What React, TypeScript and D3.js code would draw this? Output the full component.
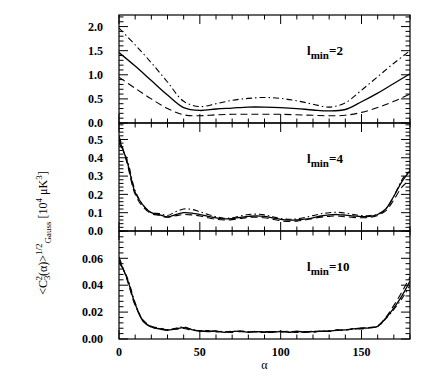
import React from "react";
import * as d3 from "d3";

// alpha grid (degrees)
const alphaCoarse = [0, 10, 20, 30, 40, 50, 60, 70, 80, 90, 100, 110, 120, 130, 140, 150, 160, 170, 180];
const alphaFine = [
  0, 5, 10, 15, 20, 25, 30, 35, 40, 45, 50, 55, 60, 65, 70, 75, 80, 85, 90,
  95, 100, 105, 110, 115, 120, 125, 130, 135, 140, 145, 150, 155, 160, 165, 170, 175, 180,
];

// l_min = 2
const lmin2Solid = [1.46, 1.18, 0.88, 0.58, 0.32, 0.26, 0.29, 0.31, 0.33, 0.33, 0.32, 0.3, 0.27, 0.25, 0.28, 0.44, 0.62, 0.82, 1.02];
const lmin2Dashed = [0.95, 0.72, 0.5, 0.3, 0.17, 0.15, 0.17, 0.18, 0.18, 0.18, 0.18, 0.17, 0.16, 0.15, 0.16, 0.22, 0.32, 0.45, 0.6];
const lmin2DashDot = [1.97, 1.62, 1.25, 0.85, 0.45, 0.34, 0.4, 0.47, 0.51, 0.53, 0.51, 0.46, 0.39, 0.33, 0.42, 0.68, 0.96, 1.24, 1.5];

// l_min = 4
const lmin4Solid = [
  0.5, 0.38, 0.21, 0.14, 0.1, 0.09, 0.077, 0.09, 0.1, 0.098, 0.09, 0.08, 0.072, 0.066, 0.068, 0.075, 0.08, 0.083, 0.08,
  0.072, 0.064, 0.06, 0.06, 0.065, 0.072, 0.082, 0.088, 0.09, 0.087, 0.082, 0.078, 0.08, 0.09, 0.12, 0.19, 0.27, 0.33,
];
const lmin4Dashed = [
  0.52, 0.37, 0.2, 0.13, 0.095, 0.085, 0.075, 0.083, 0.09, 0.088, 0.082, 0.072, 0.064, 0.06, 0.062, 0.068, 0.074, 0.076, 0.072,
  0.064, 0.056, 0.052, 0.054, 0.06, 0.068, 0.076, 0.08, 0.082, 0.078, 0.074, 0.072, 0.075, 0.085, 0.11, 0.17, 0.24, 0.28,
];
const lmin4DashDot = [
  0.48, 0.39, 0.22, 0.14, 0.1, 0.095, 0.085, 0.105, 0.12, 0.118, 0.105, 0.09, 0.078, 0.07, 0.072, 0.082, 0.09, 0.092, 0.088,
  0.078, 0.068, 0.064, 0.066, 0.074, 0.084, 0.094, 0.1, 0.102, 0.098, 0.09, 0.084, 0.085, 0.092, 0.12, 0.19, 0.28, 0.34,
];

// l_min = 10
const lmin10Solid = [
  0.059, 0.045, 0.026, 0.013, 0.009, 0.0075, 0.0065, 0.0075, 0.0085, 0.007, 0.0058, 0.0055, 0.0058, 0.005, 0.0055, 0.0058, 0.005, 0.0055, 0.0052,
  0.005, 0.0055, 0.005, 0.0058, 0.005, 0.0055, 0.0058, 0.006, 0.0065, 0.0068, 0.0075, 0.008, 0.0082, 0.0095, 0.0155, 0.023, 0.032, 0.043,
];
const lmin10Dashed = [
  0.061, 0.044, 0.025, 0.014, 0.0095, 0.0082, 0.0068, 0.0072, 0.0078, 0.0065, 0.006, 0.0062, 0.0052, 0.0056, 0.0048, 0.006, 0.0052, 0.0058, 0.0048,
  0.0056, 0.0052, 0.0058, 0.0048, 0.0056, 0.005, 0.006, 0.0056, 0.0068, 0.0064, 0.0078, 0.0074, 0.0086, 0.0098, 0.016, 0.025, 0.035, 0.046,
];
const lmin10DashDot = [
  0.057, 0.046, 0.027, 0.0135, 0.0088, 0.0078, 0.007, 0.008, 0.009, 0.0072, 0.0062, 0.0058, 0.006, 0.0054, 0.0058, 0.0054, 0.0056, 0.0052, 0.0056,
  0.0054, 0.0058, 0.0054, 0.0056, 0.0052, 0.0058, 0.0056, 0.0062, 0.0064, 0.007, 0.0072, 0.0082, 0.0084, 0.0092, 0.015, 0.022, 0.03, 0.04,
];

const xTicks = [0, 50, 100, 150];

const panels = [
  { lmin: "2", alpha: alphaCoarse, solid: lmin2Solid, dashed: lmin2Dashed, dashdot: lmin2DashDot, yMax: 2.24, major: [0, 0.5, 1, 1.5, 2], minorStep: 0.1, fmt: ".1f" },
  { lmin: "4", alpha: alphaFine, solid: lmin4Solid, dashed: lmin4Dashed, dashdot: lmin4DashDot, yMax: 0.59, major: [0, 0.1, 0.2, 0.3, 0.4, 0.5], minorStep: 0.02, fmt: ".1f" },
  { lmin: "10", alpha: alphaFine, solid: lmin10Solid, dashed: lmin10Dashed, dashdot: lmin10DashDot, yMax: 0.0803, major: [0, 0.02, 0.04, 0.06], minorStep: 0.004, fmt: ".2f" },
];

const W = 436;
const H = 382;
const left = 119;
const right = 410;
const top = 15;
const panelH = 108;
const MAJ = 9;
const MIN = 4.5;
const font = "'Liberation Serif', 'DejaVu Serif', serif";

export default function App() {
  const x = d3.scaleLinear().domain([0, 180]).range([left, right]);
  const xMinor = d3.range(0, 181, 10);

  return (
    <svg width={W} height={H} style={{ position: "absolute", left: 0, top: 0, background: "#fff" }}>
      {panels.map((p, i) => {
        const y0 = top + i * panelH;
        const y1 = y0 + panelH;
        const y = d3.scaleLinear().domain([0, p.yMax]).range([y1, y0]);
        const line = d3
          .line<number>()
          .x((_, k) => x(p.alpha[k]))
          .y((d) => y(d))
          .curve(d3.curveCatmullRom);
        const minor = d3.range(0, p.yMax + 1e-9, p.minorStep);
        const fmt = d3.format(p.fmt);
        return (
          <g key={i}>
            <defs>
              <clipPath id={`clip${i}`}>
                <rect x={left} y={y0} width={right - left} height={panelH} />
              </clipPath>
            </defs>
            {/* x ticks on top and bottom edges, inward */}
            {xMinor.map((t) => {
              const len = xTicks.includes(t) ? MAJ : MIN;
              return (
                <g key={t} stroke="#000" strokeWidth={1}>
                  <line x1={x(t)} x2={x(t)} y1={y0} y2={y0 + len} />
                  <line x1={x(t)} x2={x(t)} y1={y1} y2={y1 - len} />
                </g>
              );
            })}
            {/* y ticks on left and right */}
            {minor.map((t, k) => {
              const isMajor = p.major.some((m) => Math.abs(m - t) < 1e-9);
              const len = isMajor ? MAJ : MIN;
              return (
                <g key={k} stroke="#000" strokeWidth={1}>
                  <line x1={left} x2={left + len} y1={y(t)} y2={y(t)} />
                  <line x1={right} x2={right - len} y1={y(t)} y2={y(t)} />
                </g>
              );
            })}
            {p.major.map((t) => (
              <text
                key={t}
                x={103}
                y={y(t)}
                dy="0.35em"
                textAnchor="end"
                fontFamily={font}
                fontWeight="bold"
                fontSize={12}
              >
                {fmt(t)}
              </text>
            ))}
            <g clipPath={`url(#clip${i})`} fill="none" stroke="#000">
              <path d={line(p.solid) || ""} strokeWidth={1.3} />
              <path d={line(p.dashed) || ""} strokeWidth={1.1} strokeDasharray="7,4" />
              <path d={line(p.dashdot) || ""} strokeWidth={1.1} strokeDasharray="6,3,1.5,3" />
            </g>
            <text x={307} y={y0 + 40} fontFamily={font} fontWeight="bold" fontSize={13}>
              l
              <tspan dy={4} fontSize={11}>min</tspan>
              <tspan dy={-4}>{"=" + p.lmin}</tspan>
            </text>
            <rect x={left} y={y0} width={right - left} height={panelH} fill="none" stroke="#000" strokeWidth={1.2} />
          </g>
        );
      })}
      {xTicks.map((t) => (
        <text
          key={t}
          x={x(t)}
          y={356}
          textAnchor="middle"
          fontFamily={font}
          fontWeight="bold"
          fontSize={12}
        >
          {t}
        </text>
      ))}
      <text x={x(90)} y={369} textAnchor="middle" fontFamily={font} fontSize={12}>
        α
      </text>
      <text
        transform="translate(47,233) rotate(-90)"
        textAnchor="middle"
        fontFamily={font}
        fontSize={12}
      >
        {"<C"}
        <tspan dy={3} fontSize={9}>3</tspan>
        <tspan dy={-8} dx={-5} fontSize={9}>2</tspan>
        <tspan dy={5}>{"(α)>"}</tspan>
        <tspan dy={-5} fontSize={9}>1/2</tspan>
        <tspan dy={9} fontSize={9}>Gauss</tspan>
        <tspan dy={-4}>{" [10"}</tspan>
        <tspan dy={-5} fontSize={9}>4</tspan>
        <tspan dy={5}>{" μK"}</tspan>
        <tspan dy={-5} fontSize={9}>3</tspan>
        <tspan dy={5}>]</tspan>
      </text>
    </svg>
  );
}
